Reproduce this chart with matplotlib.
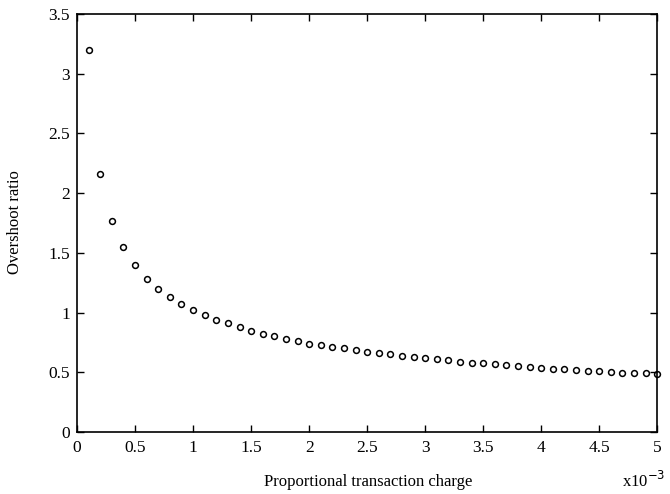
import numpy as np
import matplotlib
matplotlib.use("Agg")
import matplotlib.pyplot as plt

plt.rcParams['font.family'] = ['Liberation Serif', 'DejaVu Serif']

# proportional transaction charge, in units of 1e-3
charge = [0.1, 0.2, 0.3, 0.4, 0.5, 0.6, 0.7, 0.8, 0.9, 1.0,
          1.1, 1.2, 1.3, 1.4, 1.5, 1.6, 1.7, 1.8, 1.9, 2.0,
          2.1, 2.2, 2.3, 2.4, 2.5, 2.6, 2.7, 2.8, 2.9, 3.0,
          3.1, 3.2, 3.3, 3.4, 3.5, 3.6, 3.7, 3.8, 3.9, 4.0,
          4.1, 4.2, 4.3, 4.4, 4.5, 4.6, 4.7, 4.8, 4.9, 5.0]
overshoot = [3.20, 2.16, 1.77, 1.55, 1.40, 1.28, 1.20, 1.13, 1.07, 1.02,
             0.98, 0.94, 0.91, 0.88, 0.85, 0.82, 0.80, 0.78, 0.76, 0.74,
             0.73, 0.71, 0.70, 0.69, 0.67, 0.66, 0.65, 0.64, 0.63, 0.62,
             0.61, 0.60, 0.59, 0.58, 0.575, 0.567, 0.558, 0.55, 0.544, 0.538,
             0.53, 0.524, 0.518, 0.513, 0.507, 0.502, 0.498, 0.493, 0.49, 0.485]

xticks = [0, 0.5, 1, 1.5, 2, 2.5, 3, 3.5, 4, 4.5, 5]
yticks = [0, 0.5, 1, 1.5, 2, 2.5, 3, 3.5]

fig = plt.figure(figsize=(6.7, 4.94), dpi=100)
ax = fig.add_axes([0.115, 0.1255, 0.866, 0.846])

ax.plot(charge, overshoot, 'o', markersize=4.2, markerfacecolor='none',
        markeredgecolor='black', markeredgewidth=1.1, clip_on=False)

ax.set_xlim(0, 5)
ax.set_ylim(0, 3.5)
ax.set_xticks(xticks)
ax.set_yticks(yticks)
ax.set_xticklabels(['%g' % t for t in xticks])
ax.set_yticklabels(['%g' % t for t in yticks])
ax.tick_params(direction='in', top=True, right=True, length=5, width=1,
               labelsize=12.5)
ax.tick_params(axis='y', pad=5)
ax.tick_params(axis='x', pad=6)
for s in ax.spines.values():
    s.set_linewidth(1.2)

fig.text(0.0224, 0.5506, 'Overshoot ratio', fontsize=12, rotation=90,
         ha='center', va='center')
fig.text(0.549, 0.0243, 'Proportional transaction charge', fontsize=12,
         ha='center', va='center')
fig.text(0.928, 0.0263, 'x10$^{-3}$', fontsize=12, ha='left', va='center')

fig.savefig('out.png', dpi=100)
